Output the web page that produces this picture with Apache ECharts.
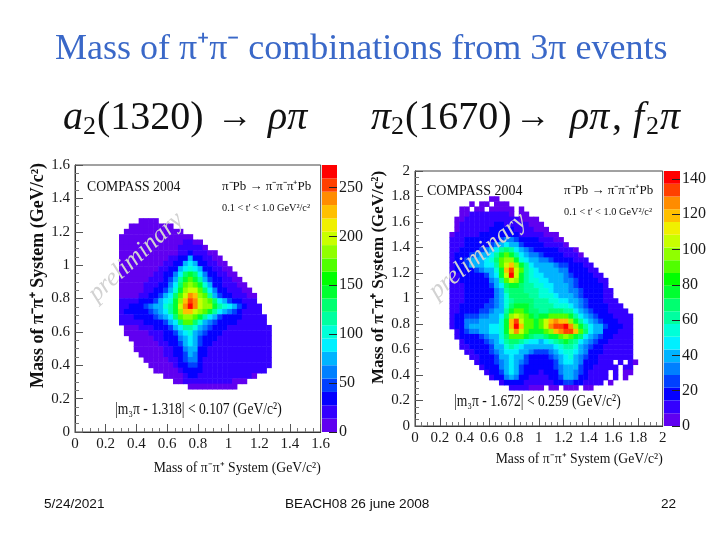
<!DOCTYPE html>
<html><head><meta charset="utf-8">
<style>html,body{margin:0;padding:0;background:#fff}#c{width:720px;height:540px}</style>
<script src="https://cdn.jsdelivr.net/npm/echarts@6/dist/echarts.min.js"></script>
</head><body><div id="c"></div>
<script>
// Colour bands, lowest to highest
const palette = ['#6000f0','#3400ff','#0400ff','#0040ff','#0080ff','#00b4ff','#00f0ff','#00ffd8','#00ffa0','#00ff70','#00ff30','#00ff00','#50ff00','#90ff00','#c8ff00','#f0f000','#ffc000','#ff8c00','#ff4000','#ff0000'];
const tickMax = {left: 273, right: 144.5};
const binCount = 50;
const leftTopRow = 39;
const leftFirstBin = [13,11,10,9,9,9,9,9,9,9,9,9,9,9,9,9,9,9,9,9,10,10,11,12,12,13,14,15,16,18,20,23];
const leftLevels = [
'0000','000000000','000000000000','000000000000000','00000000000001100',
'000000000000111110','00000000000011211100','000000000011236321100','0000000001123686321100','00000000112368986321100',
'0000000112358bcb85321100','000000111247acdca74221100','000001112358bdedc963211100','000001123469ceffdb853211100','00001123468bdfhgeda743211100',
'11112334689cegihfedb86432111','1122345679acfhjhfeeca98642111','1222334568aceggfedca875421111','11122234568bdeedca864332211111','111112223468bddb97543222111111',
'000111223'+'468aa97543'+'22111111111','000001112'+'3468975432'+'21111111111','00000112'+'2357874322'+'11111111111','0000011'+'2346864221'+'11111111111','0000001'+'1235773211'+'11111111111',
'000001'+'1234753211'+'11111111111','00000'+'1124553111'+'11111111111','00000'+'123442111'+'11111111111','00000'+'12332111'+'1111111111','0000'+'1221111'+'11111110',
'00'+'1111111'+'111000','0000000000'
];
// Right plot, same encoding
const rightTopRow = 44;
const rightFirstBin = [15,11,9,9,8,8,8,7,7,7,7,7,7,7,7,7,7,7,7,7,7,7,7,7,7,7,8,8,9,9,10,11,12,13,14,15,17,19];
const rightLevels = [
'00','0.00.000','00.00.00000.0','00111111110.00','00111111111110000','011111112211111000','0111111222221111000','0111112222232211111000',
'11122222'+'33455433'+'22111'+'00','111222334'+'5787643'+'222'+'1111'+'0','11222345'+'68aba865'+'4332'+'22'+'1110','12234567'+'8acdca86'+'5543'+'322'+'1110',
'12346778'+'9bdeec98'+'7655'+'4332'+'2111','12346778'+'8adfgeca'+'8776'+'6544'+'32211','12233456'+'79cgifda'+'9877'+'6655'+'332211',
'11222334'+'68cfjfca'+'9887'+'7665'+'4332211','11222223'+'57adfeca'+'9988'+'7765'+'54332211','11122223'+'468bccba'+'a998'+'8766'+'54332221',
'11122223'+'357abbba'+'aa99'+'8776'+'554322211','11122222'+'3579bbbb'+'aa99'+'9877'+'654332211','11122223'+'4579abbb'+'baaa'+'9988'+'6654322111',
'11222334'+'4579bccc'+'baaa'+'a999'+'87543222111','11233344'+'567acddc'+'bbaa'+'bbba'+'a87543221111','12344455'+'678befed'+'cbcc'+'dddd'+'ca87543221111',
'12355566'+'779cgifd'+'dcdf'+'ghgg'+'eca8754322111','12356677'+'889cgjgd'+'dcdf'+'hiij'+'heca876432211','13455678'+'89cfhfdc'+'ccde'+'ghii'+'gdb876322111',
'12333456'+'79bdddcb'+'aabc'+'cded'+'cb8754221111','12223456'+'8abba988'+'789a'+'bcba'+'87543211111','11222346'+'79a98766'+'6678'+'9aa9'+'75432111111',
'11223456'+'88876544'+'4568'+'9986'+'5322111111','11223467'+'87643333'+'4578'+'9754'+'321111111','12234578'+'75432223'+'4688'+'7532'+'2111.1.10',
'12235787'+'43222234'+'5776'+'4321'+'1111.11','12346864'+'32212235'+'6754'+'2111'+'1.1.00','12356532'+'11112346'+'6532'+'1111'+'.1.0',
'12332111'+'11123443'+'21111'+'.0','1111000.00.000.00'
];
const gradeChars = '0123456789abcdefghij';
// which colour band each shade grade falls in
const gradeBand = [0,1,2,2,3,4,5,5,6,7,8,9,10,12,13,14,16,17,18,19];

function cells(rows, firstBin, topRow, max){
  const out=[];
  const step=max/palette.length;
  rows.forEach(function(r,k){
    for(let n=0;n<r.length;n++){
      if(r[n]==='.')continue;
      out.push([firstBin[k]+n, topRow-k, (gradeBand[gradeChars.indexOf(r[n])]+0.5)*step]);
    }
  });
  return out;
}
const bins = Array.from({length:binCount},function(_,i){return String(i);});
const serif='"Liberation Serif","Times New Roman",serif';
const sans='"Liberation Sans",Arial,sans-serif';

const plots=[
 {g:{left:75,top:165,width:245.7,height:267}, bar:{left:322,top:165,width:15,height:267}, rng:1.6, name:'left', rows:leftLevels, first:leftFirstBin, top:leftTopRow, interval:50},
 {g:{left:415,top:171,width:247.7,height:255}, bar:{left:664,top:171,width:16,height:255}, rng:2, name:'right', rows:rightLevels, first:rightFirstBin, top:rightTopRow, interval:20}
];
const grid=[],xAxis=[],yAxis=[],series=[],visualMap=[];
const axisName='Mass of π⁻π⁺ System (GeV/c²)';
plots.forEach(function(p,i){
  const max=tickMax[p.name], step=max/palette.length;
  const gi=grid.length;
  grid.push(Object.assign({show:true,borderColor:'#444',borderWidth:1,backgroundColor:'#fff',z:1},p.g));
  xAxis.push({type:'category',gridIndex:gi,data:bins,show:false});
  yAxis.push({type:'category',gridIndex:gi,data:bins,show:false});
  const common={type:'value',gridIndex:gi,min:0,max:p.rng,interval:0.2,splitLine:{show:false},z:5,
    axisLine:{show:true,onZero:false,lineStyle:{color:'#333',width:1}},
    axisTick:{show:true,inside:true,length:8,lineStyle:{color:'#555',width:1}},
    minorTick:{show:true,splitNumber:4,length:4,lineStyle:{color:'#777',width:1}},
    axisLabel:{fontFamily:serif,fontSize:15,color:'#1a1a1a',margin:5}};
  xAxis.push(Object.assign({},common,{position:'bottom',name:axisName,nameLocation:'end',nameGap:0,
    nameTextStyle:{fontFamily:serif,fontSize:13.7,color:'#111',align:'right',verticalAlign:'top',padding:i===0?[29,0,0,0]:[26,0,0,0]}}));
  yAxis.push(Object.assign({},common,{position:'left',name:axisName,nameLocation:'middle',nameGap:i===0?15:19,
    nameTextStyle:{fontFamily:serif,fontSize:i===0?18:17,fontWeight:'bold',color:'#111',padding:i===0?[0,0,0,46]:[0,0,0,42]}}));
  series.push({type:'heatmap',name:p.name,xAxisIndex:xAxis.length-2,yAxisIndex:yAxis.length-2,
    data:cells(p.rows,p.first,p.top,max),itemStyle:{borderWidth:0},emphasis:{disabled:true},animation:false,progressive:0,z:2});
  visualMap.push({type:'piecewise',show:false,seriesIndex:series.length-1,dimension:2,
    pieces:palette.map(function(c,k){return {gte:k*step,lt:(k+1)*step,color:c};})});
  const bi=grid.length;
  grid.push(Object.assign({show:false},p.bar));
  xAxis.push({type:'category',gridIndex:bi,data:['z'],show:false});
  yAxis.push({type:'value',gridIndex:bi,min:0,max:max,interval:p.interval,position:'right',splitLine:{show:false},z:6,
    axisLine:{show:false},axisTick:{show:true,inside:true,length:8,lineStyle:{color:'#222',width:1}},
    axisLabel:{fontFamily:serif,fontSize:16,color:'#1a1a1a',margin:2,showMaxLabel:false}});
  palette.forEach(function(c){
    series.push({type:'bar',stack:'scale'+i,xAxisIndex:xAxis.length-1,yAxisIndex:yAxis.length-1,barWidth:'100%',
      data:[step],itemStyle:{color:c},silent:true,animation:false});
  });
});

function t(x,y,text,size,extra,sx){
  return {type:'text',x:x,y:y,z:50,scaleX:sx||1,style:Object.assign({text:text,font:size+'px '+serif,fill:'#111',verticalAlign:'middle'},extra||{})};
}
const big=40, sub=26, my=118, sy=127;
const ital={font:'italic '+big+'px '+serif};
const graphic=[
  t(63,my,'a',big,ital), t(83,sy,'2',sub), t(97,my,'(1320)',big), t(217,my,'→',36), t(268,my,'ρπ',big,ital),
  t(371,my,'π',big,ital), t(391,sy,'2',sub), t(405,my,'(1670)',big), t(515,my,'→',36), t(570,my,'ρπ',big,ital), t(612,my,',',big), t(633,my,'f',big,ital), t(646,sy,'2',sub), t(660,my,'π',big,ital),
  t(87,187,'COMPASS 2004',13.7),
  t(222,187,'π⁻Pb → π⁻π⁻π⁺Pb',13),
  t(222,208,'0.1 < t\' < 1.0 GeV²/c²',10.3),
  t(115,410,'|m₃π - 1.318| < 0.107 (GeV/c²)',17,null,0.8),
  t(427,191,'COMPASS 2004',14),
  t(564,191,'π⁻Pb → π⁻π⁻π⁺Pb',13),
  t(564,212,'0.1 < t\' < 1.0 GeV²/c²',10.3),
  t(454,402,'|m₃π - 1.672| < 0.259 (GeV/c²)',17,null,0.8),
  {type:'text',x:136,y:257,rotation:0.74,z:60,style:{text:'preliminary',font:'italic 25.5px '+serif,fill:'#d2d2d2',align:'center',verticalAlign:'middle'}},
  {type:'text',x:478,y:256,rotation:0.70,z:60,style:{text:'preliminary',font:'italic 25.5px '+serif,fill:'#d2d2d2',align:'center',verticalAlign:'middle'}},
  {type:'text',left:44,top:497,z:50,style:{text:'5/24/2021',font:'13.6px '+sans,fill:'#111'}},
  {type:'text',left:285,top:497,z:50,style:{text:'BEACH08 26 june 2008',font:'13.6px '+sans,fill:'#111'}},
  {type:'text',left:661,top:497,z:50,style:{text:'22',font:'13.6px '+sans,fill:'#111'}}
];
const chart=echarts.init(document.getElementById('c'),null,{renderer:'canvas'});
chart.setOption({
  animation:false,backgroundColor:'#fff',
  title:{text:'Mass of π⁺π⁻ combinations from 3π events',left:50,top:27,textStyle:{fontFamily:serif,fontWeight:'normal',fontSize:36,color:'#3a68c8'}},
  tooltip:{show:false},grid:grid,xAxis:xAxis,yAxis:yAxis,visualMap:visualMap,series:series,graphic:graphic
});
</script></body></html>
